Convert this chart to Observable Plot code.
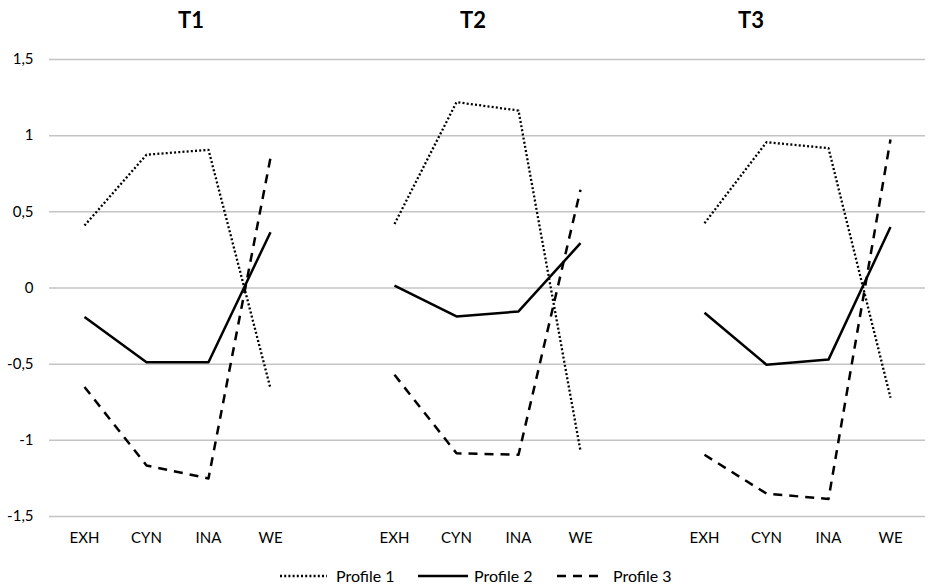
<!DOCTYPE html>
<html>
<head>
<meta charset="utf-8">
<script src="https://cdn.jsdelivr.net/npm/d3@7"></script>
<script src="https://cdn.jsdelivr.net/npm/@observablehq/plot@0.6"></script>
<style>
  html, body { margin: 0; padding: 0; background: #fff; }
  #wrap { position: relative; width: 931px; height: 587px; font-family: Lato, "Open Sans", sans-serif; color: #000; }
  .title { position: absolute; top: 7px; transform: translateX(-50%); font-weight: bold; font-size: 22px; line-height: 26px; }
  #chart { position: absolute; left: 0; top: 40px; }
  .leg { position: absolute; top: 566px; font-size: 16px; line-height: 20px; }
</style>
</head>
<body>
<div id="wrap">
  <div class="title" style="left:191px">T1</div>
  <div class="title" style="left:473px">T2</div>
  <div class="title" style="left:751px">T3</div>
  <div id="chart"></div>
  <svg width="931" height="20" style="position:absolute;left:0;top:566px">
    <line x1="280" x2="327" y1="10" y2="10" stroke="#000" stroke-width="2.3" stroke-dasharray="2,2.2"/>
    <line x1="418" x2="468" y1="10" y2="10" stroke="#000" stroke-width="2.5"/>
    <line x1="557" x2="602" y1="10" y2="10" stroke="#000" stroke-width="2.5" stroke-dasharray="9,7"/>
  </svg>
  <div class="leg" style="left:336px">Profile 1</div>
  <div class="leg" style="left:474px">Profile 2</div>
  <div class="leg" style="left:613px">Profile 3</div>
</div>
<script>
const categories = ["EXH", "CYN", "INA", "WE"];
const times = ["T1", "T2", "T3"];
const profiles = ["Profile 1", "Profile 2", "Profile 3"];
const yTicks = [-1.5, -1, -0.5, 0, 0.5, 1, 1.5];

// values per time point (T1, T2, T3), in category order EXH, CYN, INA, WE
const profile1 = [
  [0.41, 0.875, 0.907, -0.66],
  [0.42, 1.22, 1.165, -1.07],
  [0.425, 0.957, 0.918, -0.72]
];
const profile2 = [
  [-0.19, -0.487, -0.487, 0.366],
  [0.016, -0.187, -0.154, 0.294],
  [-0.163, -0.504, -0.47, 0.40]
];
const profile3 = [
  [-0.65, -1.165, -1.25, 0.855],
  [-0.57, -1.085, -1.095, 0.645],
  [-1.095, -1.35, -1.385, 0.975]
];

// x domain: categories for each time point, with an empty slot between panels
const xDomain = [];
times.forEach((t, i) => {
  categories.forEach(c => xDomain.push(t + "|" + c));
  if (i < times.length - 1) xDomain.push("gap" + i);
});

const series = [profile1, profile2, profile3];
const data = [];
series.forEach((rows, p) => {
  rows.forEach((vals, ti) => {
    vals.forEach((v, ci) => {
      data.push({profile: profiles[p], time: times[ti], key: times[ti] + "|" + categories[ci], value: v});
    });
  });
});

const styles = {
  "Profile 1": {strokeWidth: 2.3, strokeDasharray: "2,2.2"},
  "Profile 2": {strokeWidth: 2.5, strokeDasharray: undefined},
  "Profile 3": {strokeWidth: 2.5, strokeDasharray: "9,7"}
};

const chart = Plot.plot({
  width: 931,
  height: 520,
  marginLeft: 49,
  marginRight: 6,
  marginTop: 19,
  marginBottom: 44,
  style: {fontFamily: "Lato, 'Open Sans', sans-serif", fontSize: "15px", color: "#000", background: "transparent"},
  x: {
    type: "point", domain: xDomain, padding: 0.5, align: 0.5,
    label: null, tickSize: 0, tickPadding: 16,
    tickFormat: d => (d.includes("|") ? d.split("|")[1] : "")
  },
  y: {
    domain: [-1.5, 1.5], ticks: yTicks, label: null, tickSize: 0, tickPadding: 16,
    tickFormat: d => String(d).replace(".", ",")
  },
  marks: [
    Plot.ruleY(yTicks, {stroke: "#c4c4c4", strokeWidth: 1.5}),
    ...profiles.map(p => Plot.line(data.filter(d => d.profile === p), {
      x: "key", y: "value", z: "time", stroke: "#000",
      strokeWidth: styles[p].strokeWidth,
      strokeDasharray: styles[p].strokeDasharray,
      strokeLinecap: "butt",
      strokeLinejoin: "round"
    }))
  ]
});
document.getElementById("chart").appendChild(chart);
</script>
</body>
</html>
